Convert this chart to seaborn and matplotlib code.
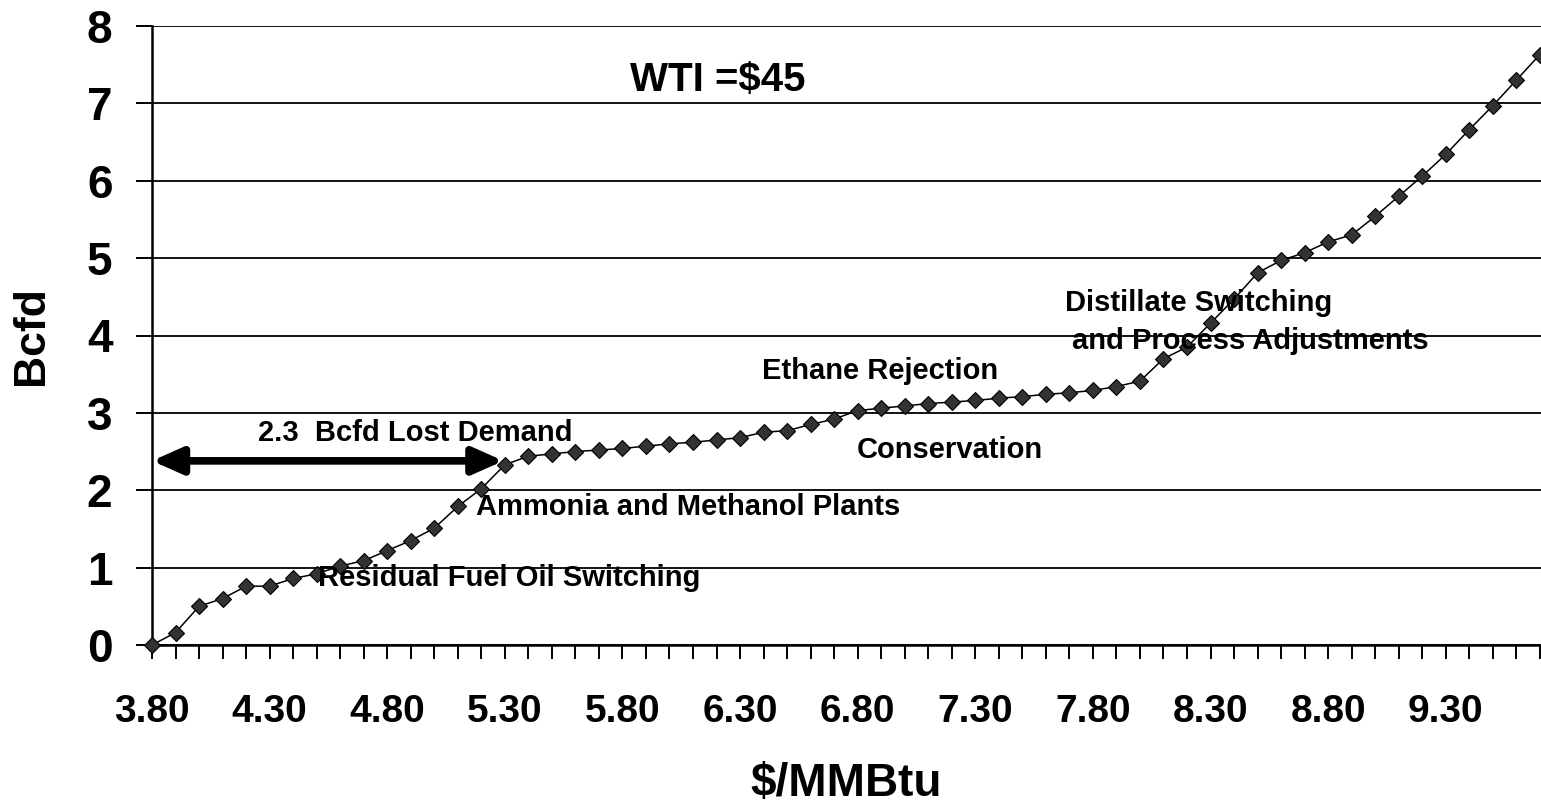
import numpy as np
import pandas as pd
import matplotlib
matplotlib.use("Agg")
import matplotlib.pyplot as plt
import seaborn as sns

# ---- data ----
prices = [3.80, 3.90, 4.00, 4.10, 4.20, 4.30, 4.40, 4.50, 4.60, 4.70,
          4.80, 4.90, 5.00, 5.10, 5.20, 5.30, 5.40, 5.50, 5.60, 5.70,
          5.80, 5.90, 6.00, 6.10, 6.20, 6.30, 6.40, 6.50, 6.60, 6.70,
          6.80, 6.90, 7.00, 7.10, 7.20, 7.30, 7.40, 7.50, 7.60, 7.70,
          7.80, 7.90, 8.00, 8.10, 8.20, 8.30, 8.40, 8.50, 8.60, 8.70,
          8.80, 8.90, 9.00, 9.10, 9.20, 9.30, 9.40, 9.50, 9.60, 9.70]
bcfd = [0.00, 0.16, 0.50, 0.60, 0.76, 0.76, 0.86, 0.92, 1.02, 1.09,
        1.22, 1.35, 1.51, 1.79, 2.02, 2.33, 2.44, 2.47, 2.50, 2.52,
        2.54, 2.57, 2.60, 2.62, 2.65, 2.68, 2.75, 2.77, 2.85, 2.92,
        3.03, 3.06, 3.09, 3.12, 3.14, 3.16, 3.19, 3.21, 3.24, 3.26,
        3.29, 3.34, 3.41, 3.70, 3.85, 4.16, 4.47, 4.81, 4.97, 5.07,
        5.21, 5.30, 5.54, 5.80, 6.06, 6.34, 6.66, 6.97, 7.30, 7.63]
tick_labels = ["3.80", "4.30", "4.80", "5.30", "5.80", "6.30",
               "6.80", "7.30", "7.80", "8.30", "8.80", "9.30"]
y_ticks = [0, 1, 2, 3, 4, 5, 6, 7, 8]

ann_texts = ["WTI =$45", "2.3  Bcfd Lost Demand", "Residual Fuel Oil Switching",
             "Ammonia and Methanol Plants", "Conservation", "Ethane Rejection",
             "Distillate Switching", "and Process Adjustments"]
ann_x = [5.834, 4.251, 4.506, 5.179, 6.794, 6.394, 7.680, 7.710]
ann_y = [7.165, 2.637, 0.757, 1.686, 2.420, 3.437, 4.320, 3.826]
ann_size = [29, 21, 21, 21, 21, 21, 21, 21]

arrow_y = 2.38
arrow_x0, arrow_x1 = 3.80, 5.294

df = pd.DataFrame({"price": prices, "bcfd": bcfd})

sns.set_theme(style="white")
plt.rcParams["font.family"] = ["Liberation Sans", "DejaVu Sans"]
plt.rcParams["font.weight"] = "bold"
for k in ["text.color", "axes.labelcolor", "xtick.color", "ytick.color"]:
    plt.rcParams[k] = "black"

W, H = 1541, 808
fig = plt.figure(figsize=(W / 100, H / 100), dpi=100)
ax = fig.add_axes([152 / W, 163 / H, (W - 152) / W, (645 - 26) / H])

sns.lineplot(data=df, x="price", y="bcfd", ax=ax, color="black", linewidth=1.1,
             marker="D", markersize=8.5, markerfacecolor="#333333",
             markeredgecolor="black", markeredgewidth=0.8, clip_on=False, zorder=5)

ax.set_xlim(3.80, 9.705)
ax.set_ylim(0, 8)

ax.set_xticks(prices)
lab_map = {t: t for t in tick_labels}
ax.set_xticklabels([lab_map.get(f"{p:.2f}", "") for p in prices])
ax.set_yticks(y_ticks)
ax.set_yticklabels([str(v) for v in y_ticks])

ax.tick_params(axis="x", direction="out", length=10, width=1.4, color="black",
               labelcolor="black", labelsize=28, pad=25, bottom=True)
ax.tick_params(axis="y", direction="out", length=11.5, width=1.4, color="black",
               labelcolor="black", labelsize=33, pad=17, left=True)
for lab in ax.get_xticklabels() + ax.get_yticklabels():
    lab.set_fontweight("bold")

ax.grid(axis="y", color="black", linewidth=1.3)
ax.grid(axis="x", visible=False)
for s in ["top", "right"]:
    ax.spines[s].set_visible(False)
for s in ["left", "bottom"]:
    ax.spines[s].set_color("black")
    ax.spines[s].set_linewidth(1.8)

ax.set_xlabel("$/MMBtu", fontsize=33, fontweight="bold", labelpad=23, color="black")
ax.set_ylabel("Bcfd", fontsize=32, fontweight="bold", labelpad=25, color="black")

for t, x, y, s in zip(ann_texts, ann_x, ann_y, ann_size):
    ax.text(x, y, t, fontsize=s, fontweight="bold", ha="left", va="baseline",
            color="black", zorder=6)

ax.annotate("", xy=(arrow_x1, arrow_y), xytext=(arrow_x0, arrow_y),
            arrowprops=dict(arrowstyle="<|-|>,head_length=0.9,head_width=0.4",
                            lw=5.5, color="black", shrinkA=0, shrinkB=0,
                            mutation_scale=20), zorder=4)

fig.savefig("out.png", dpi=100)
